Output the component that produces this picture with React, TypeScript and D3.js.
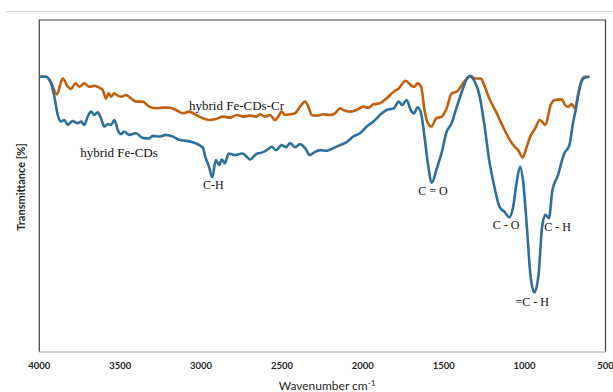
import React from "react";
import * as d3 from "d3";

// FTIR spectra: wavenumber (cm-1) vs transmittance (%)
const feCdsCrWavenumber = [
  4000, 3959, 3928, 3892, 3855, 3824, 3804, 3777, 3753, 3722, 3691, 3660, 3629, 3608, 3588, 3571,
  3557, 3536, 3515, 3495, 3464, 3433, 3402, 3361, 3320, 3279, 3237, 3196, 3155, 3114, 3073, 3031,
  2990, 2949, 2908, 2863, 2821, 2780, 2739, 2698, 2656, 2636, 2605, 2574, 2543, 2523, 2502, 2481,
  2450, 2419, 2388, 2357, 2337, 2316, 2285, 2244, 2203, 2172, 2141, 2121, 2079, 2038, 1997, 1966,
  1935, 1894, 1853, 1809, 1778, 1736, 1704, 1684, 1662, 1640, 1619, 1598, 1577, 1546, 1514, 1482,
  1451, 1419, 1388, 1356, 1335, 1303, 1271, 1250, 1219, 1177, 1134, 1092, 1061, 1040, 1012, 987,
  966, 934, 907, 871, 839, 812, 771, 750, 732, 709, 689, 668, 647, 627, 600,
];
const feCdsCrTransmittance = [
  82.9, 82.9, 81.3, 77.6, 82.4, 79.9, 79.2, 80.9, 79.9, 80.9, 79.9, 80.2, 79.6, 78.9, 76.4, 77.9,
  76.9, 77.9, 77.2, 76.9, 77.4, 76.4, 75.4, 75.4, 73.9, 73.4, 73.6, 73.6, 72.9, 71.9, 72.4, 71.4,
  70.4, 69.9, 70.2, 70.9, 70.6, 71.4, 70.9, 71.2, 70.9, 71.6, 70.9, 71.4, 69.9, 70.9, 72.4, 71.4,
  71.6, 71.9, 73.9, 75.4, 73.9, 71.4, 71.2, 71.6, 71.4, 71.9, 73.4, 72.9, 72.4, 72.9, 73.9, 73.6,
  74.6, 74.9, 76.4, 78.4, 79.4, 81.7, 80.4, 79.8, 80.9, 79.9, 72.9, 68.9, 67.9, 70.4, 70.8, 73.4,
  77.9, 78.4, 80.4, 82.4, 83.1, 82.4, 82.4, 80.4, 76.4, 72.4, 67.9, 63.9, 61.8, 60.8, 58.6, 61.8,
  64.8, 67.4, 69.9, 68.4, 74.4, 75.9, 76.1, 74.4, 73.8, 74.7, 73.4, 77.9, 81.9, 82.9, 82.9,
];

const feCdsWavenumber = [
  4000, 3959, 3928, 3907, 3886, 3866, 3845, 3824, 3794, 3763, 3742, 3722, 3701, 3680, 3660, 3639,
  3619, 3598, 3577, 3557, 3536, 3515, 3495, 3475, 3444, 3402, 3361, 3320, 3299, 3258, 3217, 3175,
  3135, 3093, 3052, 3011, 2988, 2974, 2951, 2931, 2909, 2889, 2871, 2853, 2829, 2793, 2744, 2696,
  2660, 2617, 2594, 2563, 2537, 2502, 2475, 2450, 2419, 2388, 2357, 2327, 2296, 2265, 2223, 2183,
  2141, 2100, 2059, 2018, 1976, 1935, 1894, 1853, 1809, 1778, 1757, 1729, 1704, 1683, 1662, 1640,
  1619, 1598, 1573, 1546, 1514, 1482, 1451, 1419, 1388, 1356, 1341, 1313, 1282, 1250, 1219, 1187,
  1155, 1124, 1096, 1071, 1050, 1028, 1008, 986, 965, 940, 913, 892, 871, 850, 828, 797,
  755, 723, 703, 682, 658, 633, 600,
];
const feCdsTransmittance = [
  82.9, 82.9, 80.9, 76.9, 71.4, 69.4, 69.9, 68.4, 69.6, 68.9, 69.4, 68.4, 70.9, 72.4, 71.4, 72.2,
  70.4, 67.9, 68.6, 68.4, 69.9, 66.9, 65.6, 66.4, 65.4, 65.9, 64.5, 64.3, 65.1, 64.9, 65.4, 64.9,
  63.9, 63.6, 63.2, 62.3, 61.4, 58.8, 55.8, 52.6, 57.8, 56.3, 58.0, 56.8, 59.8, 59.3, 59.8, 58.0,
  59.6, 60.2, 60.8, 61.8, 60.8, 62.3, 61.7, 62.9, 61.7, 62.6, 61.4, 59.3, 60.3, 60.8, 60.6, 61.4,
  62.3, 63.2, 64.9, 65.9, 67.9, 69.4, 71.4, 72.9, 73.4, 75.4, 74.4, 75.9, 72.9, 71.9, 73.7, 71.9,
  64.9, 56.8, 51.0, 54.8, 59.8, 66.3, 68.9, 73.9, 78.4, 82.4, 83.1, 81.9, 77.9, 68.9, 57.8, 49.8,
  43.7, 42.2, 40.6, 43.7, 50.8, 55.8, 50.8, 37.7, 23.7, 17.9, 23.7, 37.7, 41.3, 40.3, 48.8, 52.8,
  59.8, 62.3, 68.4, 73.5, 79.9, 82.5, 82.9,
];

const xTicks = [4000, 3500, 3000, 2500, 2000, 1500, 1000, 500];

// Band assignments placed under their absorption minima
const bandLabels = ["C-H", "C = O", "C - O", "=C - H", "C - H"];
const bandWavenumbers = [2931, 1573, 1096, 940, 871];
const bandTransmittance = [52.6, 51.0, 40.6, 17.9, 41.3];

const seriesNames = ["hybrid Fe-CDs-Cr", "hybrid Fe-CDs"];

const W = 613;
const H = 392;
const plot = { left: 39.3, right: 605.5, top: 20, bottom: 352 };

export default function App() {
  const x = d3.scaleLinear().domain([4000, 500]).range([plot.left, plot.right]);
  const y = d3.scaleLinear().domain([0, 100]).range([plot.bottom, plot.top]);

  const line = d3
    .line<[number, number]>()
    .x((d) => x(d[0]))
    .y((d) => y(d[1]))
    .curve(d3.curveMonotoneX);

  const crPts = feCdsCrWavenumber.map((w, i) => [w, feCdsCrTransmittance[i]] as [number, number]);
  const fePts = feCdsWavenumber.map((w, i) => [w, feCdsTransmittance[i]] as [number, number]);

  // label offsets below each band minimum (px)
  const labelDx = [1, 1, -3, -2, 12];
  const labelDy = [12, 12, 12, 13, 16];

  const serif = "'Liberation Serif', 'Times New Roman', serif";
  const sans = "Lato, 'Open Sans', sans-serif";

  return (
    <svg
      width={W}
      height={H}
      style={{ position: "fixed", left: 0, top: 0, background: "#fff" }}
    >
      <line x1={6} x2={613} y1={11.5} y2={11.5} stroke="#d9d9d9" strokeWidth={1} />

      {/* plot frame */}
      <path
        d={`M${plot.left},${plot.bottom} V${plot.top} H${plot.right} V${plot.bottom}`}
        fill="none"
        stroke="#404040"
        strokeWidth={1.2}
      />
      <line
        x1={plot.left}
        x2={plot.right}
        y1={plot.bottom}
        y2={plot.bottom}
        stroke="#bfbfbf"
        strokeWidth={1.6}
      />

      {xTicks.map((t) => (
        <text
          key={t}
          x={x(t)}
          y={369}
          textAnchor="middle"
          fontFamily={sans}
          fontWeight="bold"
          fontSize={9.5}
          fill="#1f1f1f"
        >
          {t}
        </text>
      ))}

      <text x={327} y={390} textAnchor="middle" fontFamily={sans} fontSize={12} fill="#1f1f1f">
        Wavenumber cm
        <tspan dy={-4} fontSize={8}>
          -1
        </tspan>
      </text>
      <text
        transform="translate(25,187) rotate(-90)"
        textAnchor="middle"
        fontFamily={sans}
        fontWeight="bold"
        fontSize={11}
        fill="#1f1f1f"
      >
        Transmittance [%]
      </text>

      <path d={line(crPts) ?? ""} fill="none" stroke="#c0600f" strokeWidth={2.6} strokeLinejoin="round" />
      <path d={line(fePts) ?? ""} fill="none" stroke="#2f6f9c" strokeWidth={2.6} strokeLinejoin="round" />

      <text x={236.5} y={110} textAnchor="middle" fontFamily={serif} fontSize={13} fill="#111">
        {seriesNames[0]}
      </text>
      <text x={119} y={157} textAnchor="middle" fontFamily={serif} fontSize={13} fill="#111">
        {seriesNames[1]}
      </text>

      {bandLabels.map((lab, i) => (
        <text
          key={lab + i}
          x={x(bandWavenumbers[i]) + labelDx[i]}
          y={y(bandTransmittance[i]) + labelDy[i]}
          textAnchor="middle"
          fontFamily={serif}
          fontSize={12}
          fill="#111"
        >
          {lab}
        </text>
      ))}
    </svg>
  );
}
